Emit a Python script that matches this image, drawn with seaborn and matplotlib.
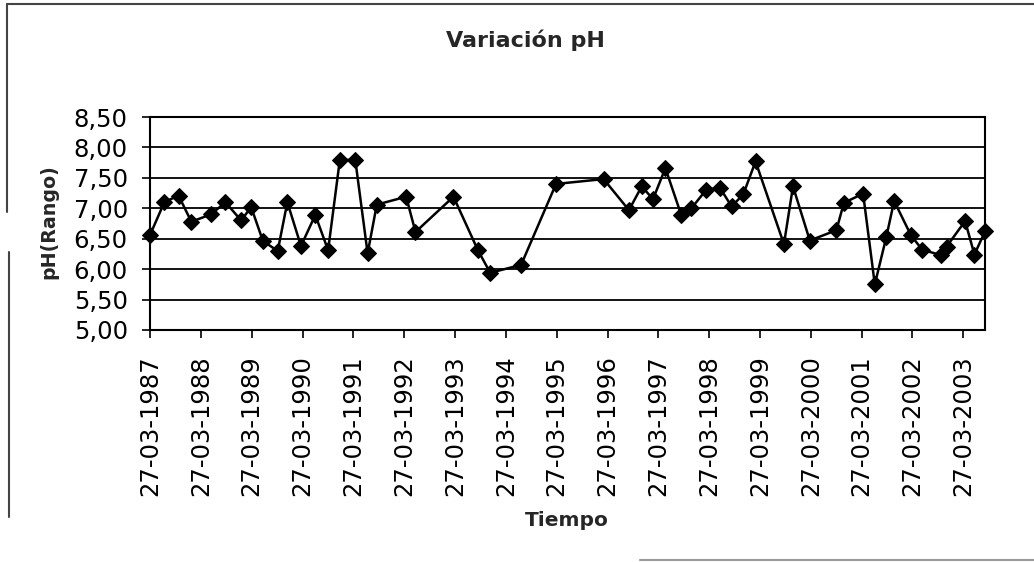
import matplotlib
matplotlib.use("Agg")
import matplotlib.pyplot as plt
import matplotlib.dates as mdates
from matplotlib.lines import Line2D
from matplotlib.ticker import FuncFormatter
import seaborn as sns
import pandas as pd

# ---- data ----
fechas = [
    "1987-03-27", "1987-07-08", "1987-10-18", "1988-01-18", "1988-06-08",
    "1988-09-19", "1989-01-10", "1989-03-23", "1989-06-16", "1989-09-30",
    "1989-12-08", "1990-03-16", "1990-06-27", "1990-09-27", "1990-12-20",
    "1991-04-10", "1991-07-08", "1991-09-12", "1992-04-10", "1992-06-16",
    "1993-03-16", "1993-09-08", "1993-12-05", "1994-07-15", "1995-03-23",
    "1996-02-28", "1996-08-28", "1996-11-28", "1997-02-17", "1997-05-17",
    "1997-09-08", "1997-11-20", "1998-03-05", "1998-06-12", "1998-09-05",
    "1998-11-28", "1999-02-24", "1999-09-16", "1999-11-20", "2000-03-20",
    "2000-09-27", "2000-11-20", "2001-04-07", "2001-06-30", "2001-09-20",
    "2001-11-16", "2002-03-16", "2002-06-05", "2002-10-18", "2002-11-28",
    "2003-04-10", "2003-06-16", "2003-08-31",
]
ph = [
    6.56, 7.10, 7.21, 6.78, 6.90,
    7.10, 6.80, 7.02, 6.46, 6.30,
    7.10, 6.38, 6.89, 6.31, 7.79,
    7.80, 6.26, 7.06, 7.19, 6.61,
    7.19, 6.31, 5.94, 6.07, 7.40,
    7.48, 6.97, 7.36, 7.15, 7.66,
    6.89, 7.00, 7.30, 7.34, 7.03,
    7.23, 7.77, 6.41, 7.36, 6.47,
    6.64, 7.09, 7.24, 5.75, 6.52,
    7.12, 6.56, 6.32, 6.23, 6.37,
    6.79, 6.24, 6.62,
]
tick_years = list(range(1987, 2004))
y_ticks = [5.0, 5.5, 6.0, 6.5, 7.0, 7.5, 8.0, 8.5]

titulo = "Variación pH"
x_titulo = "Tiempo"
y_titulo = "pH(Rango)"

df = pd.DataFrame({"Fecha": pd.to_datetime(fechas), "pH": ph})

sns.set_theme(style="white")
plt.rcParams["font.family"] = ["DejaVu Sans"]

fig = plt.figure(figsize=(10.34, 5.62), dpi=100)
W, H = 1034, 562
ax = fig.add_axes([150 / W, 1 - 330 / H, 835 / W, 213 / H])

sns.lineplot(data=df, x="Fecha", y="pH", ax=ax, color="black", linewidth=1.8,
             marker="D", markersize=8.5, markeredgecolor="black",
             markerfacecolor="black", clip_on=False, zorder=5)

ax.set_ylim(5.0, 8.5)
ax.set_yticks(y_ticks)
ax.yaxis.set_major_formatter(FuncFormatter(lambda v, p: f"{v:.2f}".replace(".", ",")))
ax.yaxis.grid(True, color="black", linewidth=1.3)
ax.xaxis.grid(False)

ax.set_xlim(df["Fecha"].iloc[0], df["Fecha"].iloc[-1])
ax.set_xticks([pd.Timestamp(f"{y}-03-27") for y in tick_years])
ax.xaxis.set_major_formatter(mdates.DateFormatter("%d-%m-%Y"))

for s in ax.spines.values():
    s.set_color("black")
    s.set_linewidth(1.5)

ax.tick_params(axis="y", direction="out", length=6, width=1.2, color="black",
               pad=10, labelsize=17.5, labelcolor="black", left=True)
ax.tick_params(axis="x", direction="out", length=6, width=1.2, color="black",
               pad=12, labelsize=17.5, labelcolor="black", labelrotation=90,
               bottom=True)

ax.set_xlabel("")
ax.set_ylabel("")
fig.text(525 / W, 1 - 40 / H, titulo, ha="center", va="center",
         fontsize=16, fontweight="bold")
fig.text(567 / W, 1 - 520 / H, x_titulo, ha="center", va="center",
         fontsize=14.5, fontweight="bold")
fig.text(49 / W, 1 - 222 / H, y_titulo, ha="center", va="center",
         rotation=90, fontsize=13.7, fontweight="bold")

# partial chart-area border (scanned)
bc = "#444444"
fig.add_artist(Line2D([7 / W, 1.0], [1 - 4 / H, 1 - 4 / H], color=bc, lw=1.5))
fig.add_artist(Line2D([7 / W, 7 / W], [1 - 4 / H, 1 - 212 / H], color=bc, lw=1.5))
fig.add_artist(Line2D([9 / W, 9 / W], [1 - 252 / H, 1 - 517 / H], color=bc, lw=1.5))
fig.add_artist(Line2D([640 / W, 1.0], [1 - 560 / H, 1 - 560 / H], color="#999999", lw=1.5))

fig.savefig("out.png", dpi=100)
